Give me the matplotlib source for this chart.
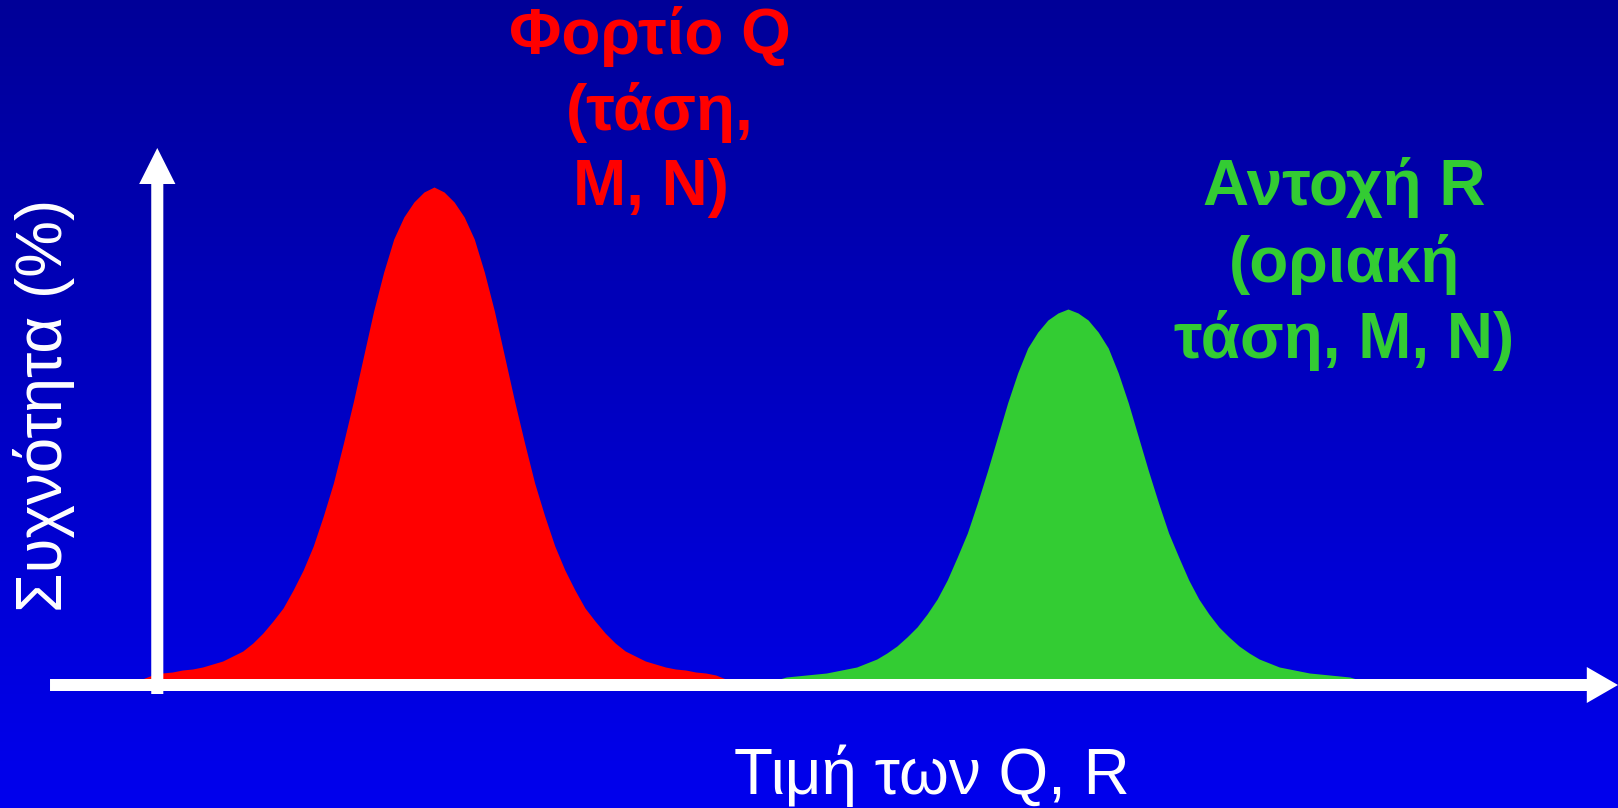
import numpy as np
import matplotlib
matplotlib.use("Agg")
import matplotlib.pyplot as plt
from matplotlib.patches import FancyArrow
from matplotlib.colors import LinearSegmentedColormap

# sampled frequency curves (value on x, frequency % on y)
red_x = np.arange(-1.5, 57.0, 1.0)
red_freq = [0.6, 1.0, 1.2, 1.3, 1.5, 1.6, 1.8, 2.1, 2.4, 2.9, 3.4, 4.2, 5.2, 6.4, 7.7,
            9.5, 11.5, 13.9, 16.9, 20.2, 24.2, 28.4, 32.9, 37.4, 41.3, 44.6, 46.8, 48.3,
            49.3, 49.8, 49.3, 48.3, 46.8, 44.6, 41.3, 37.4, 32.9, 28.4, 24.2, 20.2, 16.9,
            13.9, 11.5, 9.5, 7.7, 6.4, 5.2, 4.2, 3.4, 2.9, 2.4, 2.1, 1.8, 1.6, 1.5, 1.3,
            1.2, 1.0, 0.6]

green_x = np.arange(61.5, 120.0, 1.0)
green_freq = [0.5, 0.8, 0.9, 1.0, 1.1, 1.2, 1.4, 1.6, 1.8, 2.2, 2.6, 3.2, 3.9, 4.8, 5.8,
              7.1, 8.6, 10.5, 12.8, 15.2, 18.2, 21.4, 24.8, 28.2, 31.2, 33.7, 35.3, 36.5,
              37.2, 37.6, 37.2, 36.5, 35.3, 33.7, 31.2, 28.2, 24.8, 21.4, 18.2, 15.2, 12.8,
              10.5, 8.6, 7.1, 5.8, 4.8, 3.9, 3.2, 2.6, 2.2, 1.8, 1.6, 1.4, 1.2, 1.1, 1.0,
              0.9, 0.8, 0.5]

red_lines = ["Φορτίο Q", "(τάση,", "Μ, Ν)"]
green_lines = ["Αντοχή R", "(οριακή", "τάση, Μ, Ν)"]
xlabel = "Τιμή των Q, R"
ylabel = "Συχνότητα (%)"

RED = "#FF0000"
GREEN = "#33CC33"
FONT = ["Liberation Sans", "DejaVu Sans"]

fig = plt.figure(figsize=(16.18, 8.08), dpi=100)
ax = fig.add_axes([0, 0, 1, 1])
xmin, xmax = -15.63, 145.16
ymin, ymax = -12.3, 68.5

# background gradient, bright blue at bottom to dark blue at top
cmap = LinearSegmentedColormap.from_list("bg", ["#0000EE", "#000098"])
grad = np.linspace(0, 1, 256).reshape(-1, 1)
ax.imshow(grad, extent=[xmin, xmax, ymin, ymax], aspect="auto", cmap=cmap,
          origin="lower", zorder=0)
ax.set_xlim(xmin, xmax)
ax.set_ylim(ymin, ymax)
ax.axis("off")

ax.fill_between(red_x, red_freq, 0, color=RED, lw=0, zorder=2)
ax.fill_between(green_x, green_freq, 0, color=GREEN, lw=0, zorder=2)

# axes arrows
ax.add_patch(FancyArrow(-10.66, 0, xmax + 10.66, 0, width=1.2, head_width=3.6,
                        head_length=3.1, length_includes_head=True, color="white",
                        lw=0, zorder=3))
ax.add_patch(FancyArrow(0, -0.9, 0, 54.6, width=1.2, head_width=3.6,
                        head_length=3.6, length_includes_head=True, color="white",
                        lw=0, zorder=3))

red_pos = [(48.96, 63.1), (49.9, 55.5), (49.06, 48.0)]
for txt, (x, y) in zip(red_lines, red_pos):
    ax.text(x, y, txt, color=RED, fontsize=46, fontweight="bold", family=FONT,
            ha="center", va="baseline", zorder=4)

green_pos = [(117.98, 48.0), (117.98, 40.3), (117.98, 32.7)]
for txt, (x, y) in zip(green_lines, green_pos):
    ax.text(x, y, txt, color=GREEN, fontsize=46, fontweight="bold", family=FONT,
            ha="center", va="baseline", zorder=4)

ax.text(77.0, -10.9, xlabel, color="white", fontsize=46, family=FONT,
        ha="center", va="baseline", zorder=4)
ax.text(-11.3, 28.0, ylabel, color="white", fontsize=46, family=FONT,
        rotation=90, ha="center", va="center", zorder=4)

fig.savefig("out.png", dpi=100)
